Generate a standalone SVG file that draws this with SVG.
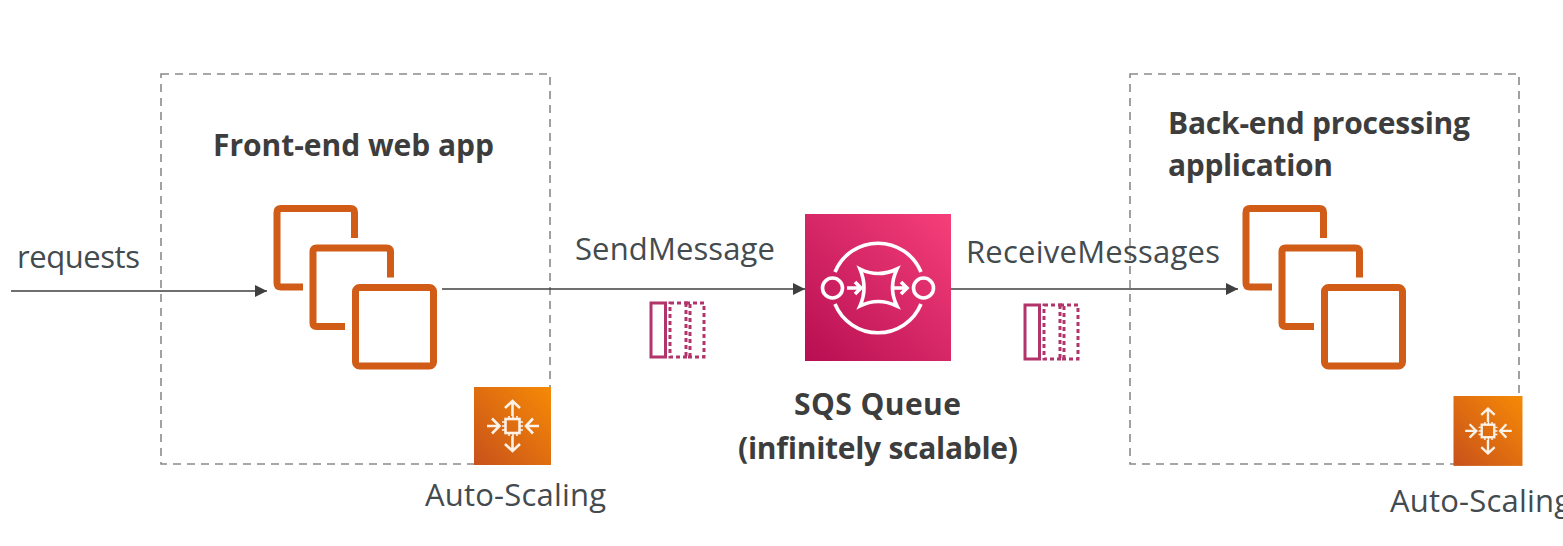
<svg xmlns="http://www.w3.org/2000/svg" xmlns:xlink="http://www.w3.org/1999/xlink" width="1563" height="546" viewBox="0 0 1563 546">
<style>
text{font-family:"Open Sans","Noto Sans","Liberation Sans",sans-serif;fill:#444b4f;font-size:31px}
.b{font-weight:700;fill:#3d3d3d;font-size:30px}
.box{fill:none;stroke:#8a8a8a;stroke-width:1.6;stroke-dasharray:8 6}
.ec2{fill:none;stroke:#d05c17;stroke-width:7;stroke-linejoin:round}
.con{fill:none;stroke:#3f3f3f;stroke-width:1.3;marker-end:url(#arr)}
.w{fill:none;stroke:#fff;stroke-width:3.6}
.a{fill:none;stroke:#fdf2e8;stroke-width:2.6}
.p{fill:none;stroke:#fdf2e8;stroke-width:1.6}
.qs{fill:none;stroke:#b1346b;stroke-width:3}
.qd{fill:none;stroke:#b1346b;stroke-width:3;stroke-dasharray:4 3}
</style>
<defs>
<marker id="arr" markerUnits="userSpaceOnUse" markerWidth="13" markerHeight="12" refX="12" refY="6" orient="auto"><path d="M0 0L12 6L0 12Z" fill="#3f3f3f"/></marker>
<linearGradient id="pink" x1="0" y1="1" x2="1" y2="0"><stop offset="0" stop-color="#b70f52"/><stop offset="1" stop-color="#f53f7a"/></linearGradient>
<linearGradient id="org" x1="0" y1="1" x2="1" y2="0"><stop offset="0" stop-color="#c8511b"/><stop offset="1" stop-color="#f68a06"/></linearGradient>
<g id="stack">
<path class="ec2" d="M29.500 82H7.500Q3.500 82 3.500 78V7.500Q3.500 3.500 7.500 3.500H77Q81 3.500 81 7.500V33"/>
<path class="ec2" d="M71.500 121.500H43Q39.500 121.500 39.500 118V47Q39.500 43 43 43H113Q117 43 117 47V72.500"/>
<rect class="ec2" x="82" y="82.500" width="78" height="78.500" rx="4"/>
</g>
<g id="scale">
<rect width="77" height="78" fill="url(#org)"/>
<rect class="a" x="31.500" y="32" width="14" height="14"/>
<path class="p" d="M28 35H31M28 39H31M28 43H31M46 35H49M46 39H49M46 43H49M35 29V32M39 29V32M43 29V32M35 46V49M39 46V49M43 46V49"/>
<path class="a" d="M38.500 29V14M31 21L38.500 14L46 21M38.500 49V64M31 57L38.500 64L46 57M25 39H13M18 31.500L25.500 39L18 46.500M52 39H65M59 31.500L52 39L59 46.500"/>
</g>
<g id="msgs">
<rect class="qs" x="0" y="0" width="14.500" height="54"/>
<rect class="qd" x="19" y="0" width="20" height="54"/>
<rect class="qd" x="35" y="0" width="18" height="54"/>
</g>
</defs>
<rect width="1563" height="546" fill="#fff"/>
<g id="front-end-box"><rect class="box" x="161" y="74" width="389" height="390"/><text class="b" x="213" y="156" textLength="281">Front-end web app</text></g>
<g id="back-end-box"><rect class="box" x="1130" y="74" width="389" height="390"/><text class="b" x="1168" y="134" textLength="302">Back-end processing</text><text class="b" x="1168" y="176" textLength="165">application</text></g>
<g id="connectors">
<path class="con" d="M11 291H267"/>
<path class="con" d="M442 289H805"/>
<path class="con" d="M951 289H1238"/>
</g>
<g id="requests"><text x="17" y="268" textLength="123">requests</text></g>
<g id="send-message"><text x="575" y="260" textLength="200">SendMessage</text><use xlink:href="#msgs" href="#msgs" x="651" y="303"/></g>
<g id="receive-messages"><text x="966" y="263" textLength="254">ReceiveMessages</text><use xlink:href="#msgs" href="#msgs" x="1025" y="305"/></g>
<g id="front-end-instances"><use xlink:href="#stack" href="#stack" x="273.500" y="205"/></g>
<g id="back-end-instances"><use xlink:href="#stack" href="#stack" x="1242.500" y="205"/></g>
<g id="sqs-queue">
<rect x="805" y="214" width="146" height="147" fill="url(#pink)"/>
<path class="w" d="M835 272A46.500 46.500 0 0 1 921 272M835 304A46.500 46.500 0 0 0 921 304"/>
<circle class="w" cx="832.500" cy="288" r="10"/><circle class="w" cx="923.500" cy="288" r="10"/>
<path class="w" d="M860 269Q878 278 897 269Q888 288 897 306Q878 297 860 306Q868 288 860 269Z"/>
<path class="w" d="M847 288H861M855 282L861 288L855 294M893 288H907M901 282L907 288L901 294"/>
<text class="b" x="794" y="415" textLength="167">SQS Queue</text>
<text class="b" x="738" y="459" textLength="280">(infinitely scalable)</text>
</g>
<g id="auto-scaling-front"><use xlink:href="#scale" href="#scale" x="474" y="387"/><text x="425" y="506" textLength="181">Auto-Scaling</text></g>
<g id="auto-scaling-back"><use xlink:href="#scale" href="#scale" transform="translate(1453.500 396) scale(.896)"/><text x="1390" y="512" textLength="181">Auto-Scaling</text></g>
</svg>
